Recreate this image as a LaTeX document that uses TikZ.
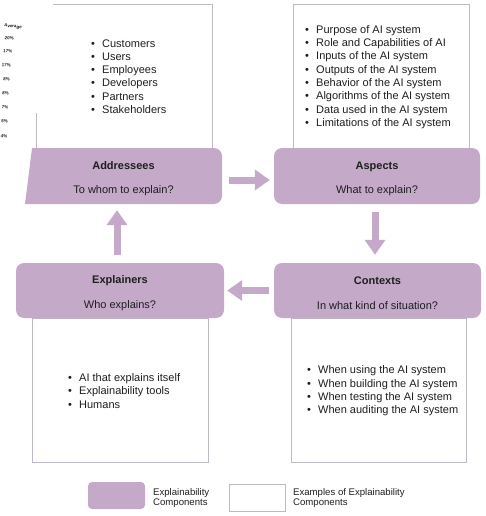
\documentclass[tikz,border=0pt]{standalone}
\usepackage{fontspec}
\setmainfont{Liberation Sans}
\usetikzlibrary{arrows.meta}
\definecolor{comp}{HTML}{C4A9C9}
\definecolor{framec}{HTML}{BEB9C4}
\definecolor{ink}{HTML}{1E1E1E}
\newcommand\lstbul{\makebox[11pt][l]{\textbullet}}
\newcommand\ttlstrut{\rule{0pt}{13pt}}
\begin{document}
\begin{tikzpicture}[x=1pt,y=-1pt,
  compbox/.style={fill=comp, rounded corners=8pt, text=ink, align=center,
    font=\fontsize{11}{13.3}\selectfont, inner sep=0pt, minimum height=56pt},
  notfilled/.style={text=ink, align=center, font=\fontsize{11}{13.3}\selectfont,
    inner sep=0pt, minimum height=56pt},
  exframe/.style={draw=framec, line width=0.8pt, fill=white},
  listtext/.style={align=left, anchor=west, text=ink, inner sep=0pt,
    font=\fontsize{11}{13.3}\selectfont},
  legtext/.style={align=left, anchor=west, text=ink, inner sep=0pt,
    font=\fontsize{9.6}{10.4}\selectfont},
  blockarrow/.style={draw=comp, line width=7pt,
    -{Triangle[width=20pt,length=15pt]}},
  stray/.style={anchor=east, text=ink, inner sep=0pt, rotate=-8,
    font=\fontsize{4.5}{5}\selectfont\bfseries}]
\useasboundingbox (0,0) rectangle (486,516);

% stray fragments at the left edge
\node[stray] (s0) at (22,28) {Average};
\node[stray] (s1) at (14,39) {20\%};
\node[stray] (s2) at (12.5,52) {17\%};
\node[stray] (s3) at (11,66) {17\%};
\node[stray] (s4) at (10,80) {8\%};
\node[stray] (s5) at (9,94) {8\%};
\node[stray] (s6) at (8.5,108) {7\%};
\node[stray] (s7) at (8,122) {5\%};
\node[stray] (s8) at (7.5,137) {4\%};

% example frames
\draw[draw=framec, line width=0.8pt] (53,4) -- (212,4) -- (212,148);
\draw[draw=framec, line width=0.8pt] (36,113) -- (36,148);
\path[exframe] (293,4) rectangle (469,148);
\path[exframe] (32,318) rectangle (208,462);
\path[exframe] (291,318) rectangle (466,462);

% example lists
\node[listtext] (lAddr) at (91,76.5) {\lstbul Customers\\ \lstbul Users\\ \lstbul Employees\\
  \lstbul Developers\\ \lstbul Partners\\ \lstbul Stakeholders};
\node[listtext] (lAsp) at (305,77) {\lstbul Purpose of AI system\\ \lstbul Role and Capabilities of AI\\
  \lstbul Inputs of the AI system\\ \lstbul Outputs of the AI system\\
  \lstbul Behavior of the AI system\\ \lstbul Algorithms of the AI system\\
  \lstbul Data used in the AI system\\ \lstbul Limitations of the AI system};
\node[listtext] (lExp) at (68,391) {\lstbul AI that explains itself\\ \lstbul Explainability tools\\ \lstbul Humans};
\node[listtext] (lCtx) at (307,391) {\lstbul When using the AI system\\ \lstbul When building the AI system\\
  \lstbul When testing the AI system\\ \lstbul When auditing the AI system};

% components
\fill[comp] (32,148) [rounded corners=8pt] -- (222,148) -- (222,204) [sharp corners] -- (25,204) -- cycle;
\node[notfilled, minimum width=197pt] (addr) at (123.5,176) {\ttlstrut\textbf{Addressees}\\[11pt]To whom to explain?};
\node[compbox, minimum width=206pt] (asp) at (377,176) {\ttlstrut\textbf{Aspects}\\[11pt]What to explain?};
\node[compbox, minimum width=208pt, minimum height=55pt] (expl) at (120,290.5) {\ttlstrut\textbf{Explainers}\\[11pt]Who explains?};
\node[compbox, minimum width=207pt, minimum height=55pt] (ctx) at (377.5,290.5) {\ttlstrut\textbf{Contexts}\\[11pt]In what kind of situation?};

% arrows
\draw[blockarrow, shorten <=7pt, shorten >=4pt] ([yshift=-4pt]addr.east) -- ([yshift=-4pt]asp.west);
\draw[blockarrow, shorten <=8pt, shorten >=8pt] ([xshift=-2pt]asp.south) -- ([xshift=-2pt]asp.south |- ctx.north);
\draw[blockarrow, shorten <=5pt, shorten >=3pt] (ctx.west) -- (ctx.west -| expl.east);
\draw[blockarrow, shorten <=8pt, shorten >=6pt] ([xshift=-3pt]expl.north) -- ([xshift=-3pt]expl.north |- addr.south);

% legend
\node[fill=comp, rounded corners=4pt, minimum width=57pt, minimum height=27pt, inner sep=0pt] (legC) at (116.5,495.5) {};
\node[legtext] (legCt) at (153,498) {Explainability\\Components};
\node[exframe, minimum width=56pt, minimum height=27pt, inner sep=0pt] (legE) at (257,497.5) {};
\node[legtext] (legEt) at (293,498) {Examples of Explainability\\Components};
\end{tikzpicture}
\end{document}
